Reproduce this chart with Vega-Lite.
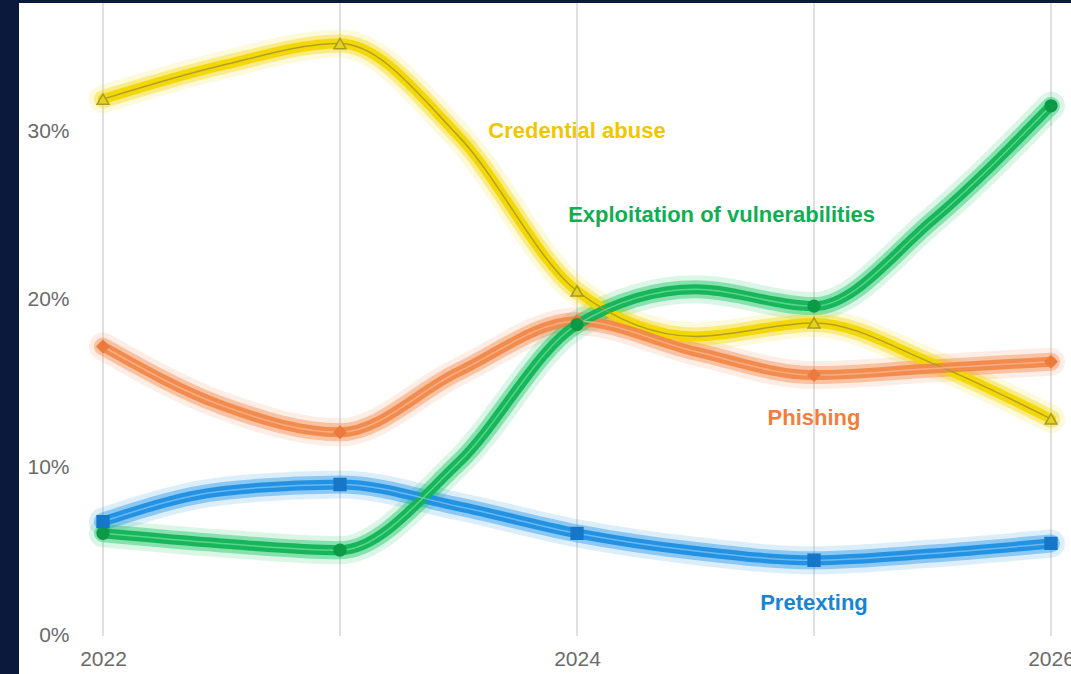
{
  "$schema": "https://vega.github.io/schema/vega-lite/v6.json",
  "width": 1052,
  "height": 671,
  "autosize": "none",
  "padding": {"left": 19, "top": 3, "right": 0, "bottom": 0},
  "background": "#0b1a3c",
  "config": {"view": {"fill": "white", "stroke": null}, "font": "Liberation Sans"},
  "datasets": {
    "series": [
      {"year": 2022, "series": "Credential abuse", "value": 31.9},
      {"year": 2022.5, "series": "Credential abuse", "value": 33.9},
      {"year": 2023, "series": "Credential abuse", "value": 35.2},
      {"year": 2023.5, "series": "Credential abuse", "value": 29.7},
      {"year": 2024, "series": "Credential abuse", "value": 20.5},
      {"year": 2024.5, "series": "Credential abuse", "value": 17.8},
      {"year": 2025, "series": "Credential abuse", "value": 18.6},
      {"year": 2025.5, "series": "Credential abuse", "value": 16.2},
      {"year": 2026, "series": "Credential abuse", "value": 12.9},
      {"year": 2022, "series": "Phishing", "value": 17.2},
      {"year": 2022.5, "series": "Phishing", "value": 13.7},
      {"year": 2023, "series": "Phishing", "value": 12.1},
      {"year": 2023.5, "series": "Phishing", "value": 15.7},
      {"year": 2024, "series": "Phishing", "value": 18.7},
      {"year": 2024.5, "series": "Phishing", "value": 16.9},
      {"year": 2025, "series": "Phishing", "value": 15.5},
      {"year": 2025.5, "series": "Phishing", "value": 15.9},
      {"year": 2026, "series": "Phishing", "value": 16.3},
      {"year": 2022, "series": "Pretexting", "value": 6.8},
      {"year": 2022.5, "series": "Pretexting", "value": 8.6},
      {"year": 2023, "series": "Pretexting", "value": 9.0},
      {"year": 2023.5, "series": "Pretexting", "value": 7.7},
      {"year": 2024, "series": "Pretexting", "value": 6.1},
      {"year": 2024.5, "series": "Pretexting", "value": 5.05},
      {"year": 2025, "series": "Pretexting", "value": 4.5},
      {"year": 2025.5, "series": "Pretexting", "value": 4.9},
      {"year": 2026, "series": "Pretexting", "value": 5.5},
      {"year": 2022, "series": "Exploitation of vulnerabilities", "value": 6.1},
      {"year": 2022.5, "series": "Exploitation of vulnerabilities", "value": 5.5},
      {"year": 2023, "series": "Exploitation of vulnerabilities", "value": 5.1},
      {"year": 2023.5, "series": "Exploitation of vulnerabilities", "value": 10.3},
      {"year": 2024, "series": "Exploitation of vulnerabilities", "value": 18.5},
      {"year": 2024.5, "series": "Exploitation of vulnerabilities", "value": 20.6},
      {"year": 2025, "series": "Exploitation of vulnerabilities", "value": 19.6},
      {"year": 2025.5, "series": "Exploitation of vulnerabilities", "value": 24.7},
      {"year": 2026, "series": "Exploitation of vulnerabilities", "value": 31.5}
    ],
    "years": [{"year": 2022}, {"year": 2023}, {"year": 2024}, {"year": 2025}, {"year": 2026}],
    "labels": [
      {"series": "Credential abuse", "year": 2024.0, "value": 30.0},
      {"series": "Exploitation of vulnerabilities", "year": 2024.61, "value": 25.0},
      {"series": "Phishing", "year": 2025.0, "value": 12.95},
      {"series": "Pretexting", "year": 2025.0, "value": 1.96}
    ]
  },
  "resolve": {"scale": {"color": "independent", "stroke": "independent"}},
  "layer": [
    {
      "data": {"name": "years"},
      "mark": {"type": "rule", "color": "#d6d6d6", "strokeWidth": 1.5},
      "encoding": {
        "x": {"field": "year", "type": "quantitative", "scale": {"domain": [2021.6456, 2026.0844], "nice": false, "zero": false},
              "axis": {"values": [2022, 2024, 2026], "format": "d", "orient": "bottom", "offset": -38, "domain": false, "ticks": false, "tickSize": 0, "grid": false, "labelPadding": 12, "labelFontSize": 21, "labelColor": "#6a6a6a", "labelFont": "Liberation Sans", "title": null, "labelFlush": false, "labelOverlap": false}},
        "y": {"datum": 0, "type": "quantitative", "scale": {"domain": [-2.258, 37.61], "nice": false, "zero": false},
              "axis": {"values": [0, 10, 20, 30], "labelExpr": "datum.value + '%'", "orient": "left", "offset": -52, "domain": false, "ticks": false, "tickSize": 0, "grid": false, "labelPadding": 2, "labelFontSize": 21, "labelColor": "#6a6a6a", "labelFont": "Liberation Sans", "title": null}},
        "y2": {"datum": 37.61}
      }
    },
    {
      "mark": {"type": "rule", "color": "#8c8c8c", "strokeWidth": 2},
      "encoding": {
        "x": {"datum": 2021.924, "type": "quantitative"},
        "x2": {"datum": 2026.0844},
        "y": {"datum": 0, "type": "quantitative"}
      }
    },
    {
      "data": {"name": "series"},
      "mark": {"type": "line", "interpolate": "monotone", "strokeWidth": 28, "opacity": 0.16, "strokeCap": "round"},
      "encoding": {
        "x": {"field": "year", "type": "quantitative"},
        "y": {"field": "value", "type": "quantitative"},
        "detail": {"field": "series"},
        "color": {"field": "series", "type": "nominal", "legend": null,
                  "scale": {"domain": ["Credential abuse", "Exploitation of vulnerabilities", "Phishing", "Pretexting"], "range": ["#f5dc1e", "#22c76a", "#f58f55", "#2a98e6"]}}
      }
    },
    {
      "data": {"name": "series"},
      "mark": {"type": "line", "interpolate": "monotone", "strokeWidth": 18, "opacity": 0.45, "strokeCap": "round"},
      "encoding": {
        "x": {"field": "year", "type": "quantitative"},
        "y": {"field": "value", "type": "quantitative"},
        "detail": {"field": "series"},
        "color": {"field": "series", "type": "nominal", "legend": null,
                  "scale": {"domain": ["Credential abuse", "Exploitation of vulnerabilities", "Phishing", "Pretexting"], "range": ["#f5dc1e", "#22c76a", "#f58f55", "#2a98e6"]}}
      }
    },
    {
      "data": {"name": "series"},
      "mark": {"type": "line", "interpolate": "monotone", "strokeWidth": 10, "opacity": 0.95, "strokeCap": "round"},
      "encoding": {
        "x": {"field": "year", "type": "quantitative"},
        "y": {"field": "value", "type": "quantitative"},
        "detail": {"field": "series"},
        "color": {"field": "series", "type": "nominal", "legend": null,
                  "scale": {"domain": ["Credential abuse", "Exploitation of vulnerabilities", "Phishing", "Pretexting"], "range": ["#f2d600", "#11b355", "#f0894a", "#1d8fe1"]}}
      }
    },
    {
      "data": {"name": "series"},
      "mark": {"type": "line", "interpolate": "monotone", "strokeWidth": 1.5, "opacity": 0.9},
      "encoding": {
        "x": {"field": "year", "type": "quantitative"},
        "y": {"field": "value", "type": "quantitative"},
        "detail": {"field": "series"},
        "color": {"field": "series", "type": "nominal", "legend": null,
                  "scale": {"domain": ["Credential abuse", "Exploitation of vulnerabilities", "Phishing", "Pretexting"], "range": ["#a89b2a", "#62d692", "#f7b08a", "#72bdf2"]}}
      }
    },
    {
      "data": {"name": "series"},
      "transform": [{"filter": "datum.year == floor(datum.year)"}],
      "mark": {"type": "point", "filled": true, "size": 140, "opacity": 1, "strokeWidth": 1.5},
      "encoding": {
        "x": {"field": "year", "type": "quantitative"},
        "y": {"field": "value", "type": "quantitative"},
        "shape": {"field": "series", "type": "nominal", "legend": null,
                  "scale": {"domain": ["Credential abuse", "Exploitation of vulnerabilities", "Phishing", "Pretexting"], "range": ["triangle-up", "circle", "diamond", "square"]}},
        "color": {"field": "series", "type": "nominal", "legend": null,
                  "scale": {"domain": ["Credential abuse", "Exploitation of vulnerabilities", "Phishing", "Pretexting"], "range": ["#e6d020", "#0c9a46", "#ec7a3c", "#1677c9"]}},
        "stroke": {"field": "series", "type": "nominal", "legend": null,
                  "scale": {"domain": ["Credential abuse", "Exploitation of vulnerabilities", "Phishing", "Pretexting"], "range": ["#a89b2a", "#0c9a46", "#ec7a3c", "#1677c9"]}}
      }
    },
    {
      "data": {"name": "labels"},
      "mark": {"type": "text", "fontSize": 22, "fontWeight": "bold", "align": "center", "baseline": "middle", "font": "Liberation Sans"},
      "encoding": {
        "x": {"field": "year", "type": "quantitative"},
        "y": {"field": "value", "type": "quantitative"},
        "text": {"field": "series"},
        "color": {"field": "series", "type": "nominal", "legend": null,
                  "scale": {"domain": ["Credential abuse", "Exploitation of vulnerabilities", "Phishing", "Pretexting"], "range": ["#f0c600", "#0fae52", "#ee7f3e", "#1785d6"]}}
      }
    }
  ]
}
